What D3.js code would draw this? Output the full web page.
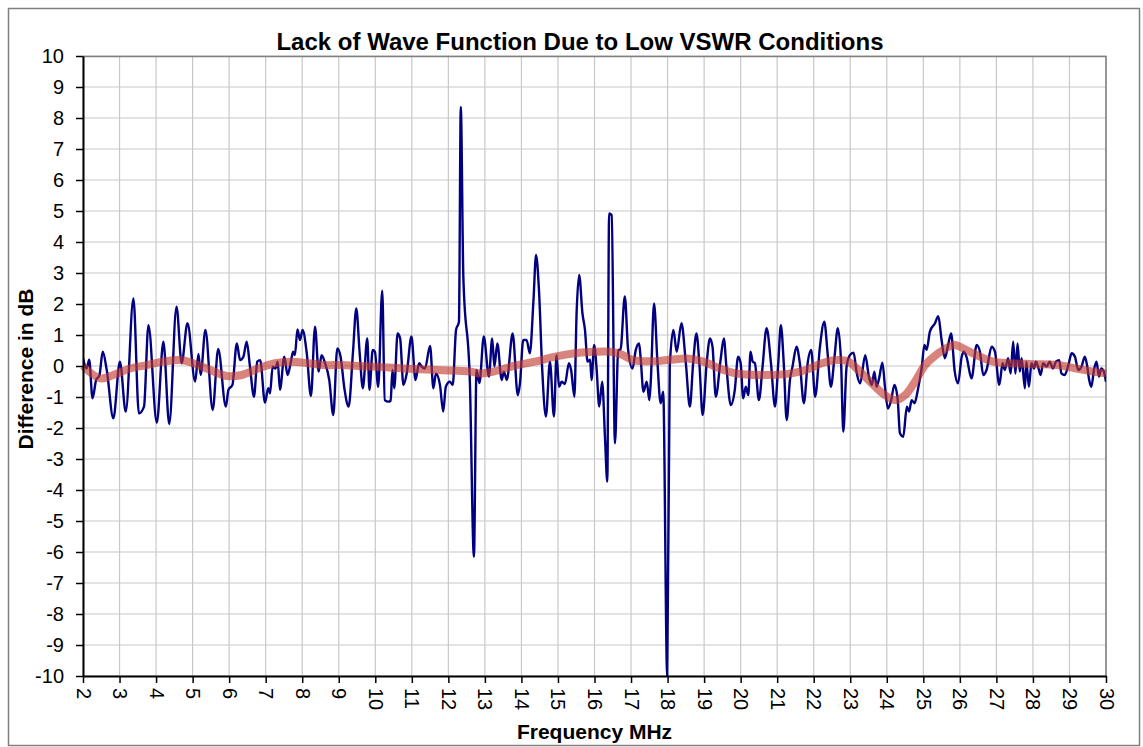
<!DOCTYPE html>
<html>
<head>
<meta charset="utf-8">
<script src="https://cdn.jsdelivr.net/npm/d3@7"></script>
<style>
    body { margin: 0; background: #fff; }
    svg { display: block; font-family: "Liberation Sans", Arial, sans-serif; }
</style>
</head>
<body>
<div id="chart"></div>
<script>
// measured difference (blue line), frequency in MHz
const freq = [2.00, 2.10, 2.17, 2.26, 2.36, 2.45, 2.54, 2.65, 2.83, 3.01, 3.17, 3.38, 3.53, 3.67, 3.79, 4.02, 4.20, 4.36, 4.56, 4.70,
    4.86, 5.07, 5.16, 5.22, 5.35, 5.55, 5.70, 5.91, 5.98, 6.09, 6.21, 6.30, 6.39, 6.48, 6.57, 6.68, 6.77, 6.85, 6.98, 7.07,
    7.12, 7.19, 7.27, 7.33, 7.39, 7.51, 7.60, 7.69, 7.75, 7.80, 7.87, 7.94, 8.01, 8.12, 8.24, 8.35, 8.45, 8.53, 8.62, 8.74,
    8.85, 8.96, 9.05, 9.16, 9.27, 9.39, 9.48, 9.57, 9.66, 9.78, 9.84, 9.93, 9.99, 10.08, 10.19, 10.26, 10.36, 10.42, 10.47, 10.52,
    10.61, 10.68, 10.77, 10.86, 10.99, 11.10, 11.20, 11.27, 11.36, 11.50, 11.59, 11.66, 11.77, 11.86, 11.93, 12.04, 12.12, 12.21, 12.29, 12.34,
    12.41, 12.59, 12.70, 12.77, 12.85, 12.97, 13.11, 13.20, 13.26, 13.34, 13.46, 13.52, 13.60, 13.76, 13.90, 13.96, 14.05, 14.14, 14.23, 14.33,
    14.40, 14.48, 14.57, 14.67, 14.78, 14.89, 14.96, 15.03, 15.10, 15.19, 15.30, 15.36, 15.45, 15.51, 15.58, 15.67, 15.74, 15.81, 15.88, 15.92,
    15.99, 16.06, 16.13, 16.21, 16.29, 16.35, 16.40, 16.47, 16.56, 16.65, 16.71, 16.83, 16.92, 17.04, 17.13, 17.22, 17.26, 17.34, 17.43, 17.50,
    17.54, 17.63, 17.72, 17.81, 17.88, 17.99, 18.06, 18.16, 18.25, 18.38, 18.50, 18.61, 18.70, 18.79, 18.87, 18.96, 19.07, 19.16, 19.23, 19.32,
    19.45, 19.54, 19.61, 19.73, 19.84, 19.93, 20.00, 20.07, 20.14, 20.21, 20.27, 20.33, 20.39, 20.50, 20.60, 20.71, 20.83, 20.94, 21.03, 21.10,
    21.18, 21.26, 21.35, 21.42, 21.53, 21.62, 21.73, 21.84, 21.93, 22.04, 22.17, 22.29, 22.38, 22.47, 22.57, 22.66, 22.75, 22.81, 22.90, 22.99,
    23.09, 23.18, 23.27, 23.41, 23.51, 23.59, 23.66, 23.72, 23.79, 23.88, 23.95, 24.03, 24.12, 24.21, 24.30, 24.36, 24.45, 24.55, 24.61, 24.68,
    24.76, 24.85, 24.96, 25.03, 25.09, 25.18, 25.32, 25.41, 25.50, 25.59, 25.67, 25.76, 25.86, 25.95, 26.05, 26.11, 26.18, 26.32, 26.46, 26.55,
    26.64, 26.73, 26.87, 26.96, 27.08, 27.17, 27.23, 27.32, 27.39, 27.46, 27.52, 27.58, 27.64, 27.69, 27.78, 27.82, 27.89, 27.96, 28.03, 28.08,
    28.14, 28.21, 28.28, 28.37, 28.46, 28.55, 28.63, 28.72, 28.78, 28.87, 28.97, 29.06, 29.15, 29.24, 29.33, 29.42, 29.48, 29.54, 29.60, 29.67,
    29.74, 29.81, 29.87, 29.94, 30.00];
const diff = [0.25, -0.08, 0.20, -1.04, -0.45, -0.30, 0.46, -0.13, -1.69, 0.14, -1.47, 2.18, -1.53, -1.31, 1.32, -1.83, 0.78, -1.87, 1.91, 0.09,
    1.38, -0.50, 0.39, -0.29, 1.16, -1.42, 0.55, -1.31, -0.77, -0.61, 0.73, 0.19, 0.30, 0.78, -0.02, -0.99, 0.14, 0.19, -1.18, -0.72,
    -0.88, -0.02, -0.08, 0.14, -0.77, 0.30, -0.29, 0.14, 0.46, 0.35, 1.18, 0.84, 1.16, 0.46, -0.97, 1.27, -0.18, 0.35, 0.11, -0.45,
    -1.58, 0.57, 0.30, -0.77, -1.31, 0.46, 1.86, 0.46, -0.72, 0.89, -0.77, 0.52, 0.46, -0.67, 2.43, -1.10, -1.15, -1.12, -0.13, -0.72,
    1.05, 0.89, -0.61, -0.24, 0.95, -0.45, 0.09, -0.02, -0.08, 0.65, -0.72, -0.24, -0.61, -1.47, -0.67, -0.51, -0.61, 1.16, 1.43, 8.36,
    2.88, -0.55, -6.15, -0.13, -0.55, 0.95, -0.34, 0.89, -0.02, 0.73, -0.45, -0.18, -0.45, 1.05, -0.94, -0.56, 0.84, 0.84, 0.41, 2.13,
    3.58, 2.45, -0.13, -1.63, 0.14, -1.63, 0.35, -0.67, -0.51, -0.58, 0.09, -0.13, -0.99, 1.70, 2.94, 1.70, 1.16, 0.14, 0.20, -0.45,
    0.68, -0.13, -1.31, -0.51, -2.39, -3.73, 4.92, 4.87, -2.49, 0.52, 0.52, 2.24, 0.52, -0.08, 0.52, 0.73, 0.30, -0.83, -0.51, -1.10,
    -0.51, 2.02, 0.19, -1.20, -0.83, -10.0, -0.02, 1.16, 0.46, 1.38, 0.09, -1.31, 0.09, 1.05, 0.09, -1.58, 0.09, 0.89, 0.62, -0.99,
    0.19, 0.89, -0.02, -1.26, -0.77, 0.30, 0.09, -1.04, -0.67, -0.94, 0.46, 0.14, 0.09, -1.10, -0.02, 1.22, 0.09, -1.31, 0.09, 1.32,
    0.09, -1.74, -0.45, -0.02, 0.62, 0.09, -1.20, 0.14, 0.52, -0.99, 0.62, 1.43, 0.41, -0.67, 0.30, 1.22, 0.09, -2.12, -0.02, 0.35,
    0.43, -0.24, -0.56, 0.35, -0.34, -0.61, -0.18, -0.67, -0.40, 0.11, -0.67, -1.37, -1.10, -0.61, -1.10, -2.17, -2.28, -1.31, -1.47, -1.10,
    -1.20, -0.77, -0.02, 0.68, 0.52, 1.11, 1.38, 1.61, 0.84, 0.25, 0.62, 1.05, -0.18, -0.56, 0.30, 0.46, 0.30, -0.40, 0.68, 0.46,
    -0.29, -0.13, 0.62, 0.46, -0.61, 0.09, -0.13, 0.25, -0.24, 0.78, -0.24, 0.73, -0.18, 0.25, -0.72, 0.14, -0.67, 0.09, -0.08, 0.14,
    -0.02, -0.29, 0.09, -0.02, 0.14, -0.08, 0.14, 0.19, -0.24, -0.29, 0.03, 0.41, 0.30, -0.13, -0.02, 0.30, 0.03, -0.45, -0.67, -0.13,
    0.14, -0.34, -0.08, -0.18, -0.51];

// smoothed trend (red line)
const trendFreq = [2.00, 2.47, 2.83, 3.29, 3.74, 4.20, 4.65, 5.02, 5.48, 5.93, 6.35, 6.80, 7.25, 7.70, 8.16, 8.62, 9.07, 9.53, 9.98, 10.77,
    11.68, 12.60, 12.87, 13.23, 13.78, 14.37, 14.92, 15.46, 16.01, 16.45, 16.74, 17.03, 17.50, 18.06, 18.55, 18.98, 19.43, 19.89, 20.53, 21.16,
    21.62, 21.90, 22.22, 22.68, 22.95, 23.22, 23.59, 23.95, 24.23, 24.50, 24.77, 25.05, 25.41, 25.69, 25.87, 26.09, 26.46, 26.91, 27.37, 28.01,
    28.65, 29.19, 29.65, 30.00];
const trend = [0.00, -0.40, -0.29, -0.08, 0.03, 0.14, 0.19, 0.09, -0.13, -0.32, -0.29, -0.08, 0.09, 0.14, 0.09, 0.03, 0.03, 0.00, -0.02, -0.08,
    -0.13, -0.18, -0.24, -0.18, 0.00, 0.14, 0.30, 0.41, 0.46, 0.46, 0.37, 0.20, 0.15, 0.20, 0.24, 0.14, -0.08, -0.24, -0.29, -0.27,
    -0.18, -0.08, 0.09, 0.19, 0.14, -0.13, -0.56, -0.94, -1.10, -0.94, -0.51, 0.03, 0.41, 0.62, 0.68, 0.57, 0.35, 0.14, 0.09, 0.06,
    0.03, -0.08, -0.18, -0.24];

const xTicks = d3.range(2, 31);
const yTicks = d3.range(-10, 11);

const width = 1143, height = 747;
const margin = { top: 56, right: 37, bottom: 71, left: 83 };
const innerW = width - margin.left - margin.right;
const innerH = height - margin.top - margin.bottom;

const svg = d3.select('#chart').append('svg')
    .attr('width', width)
    .attr('height', height);

// outer chart border
svg.append('rect')
    .attr('x', 8.5).attr('y', 8.5)
    .attr('width', 1131).attr('height', 737)
    .attr('fill', 'none')
    .attr('stroke', '#808080')
    .attr('stroke-width', 1.5);

const x = d3.scaleLinear().domain([2, 30]).range([0, innerW]);
const y = d3.scaleLinear().domain([-10, 10]).range([innerH, 0]);

const g = svg.append('g').attr('transform', `translate(${margin.left},${margin.top})`);

svg.append('defs').append('clipPath').attr('id', 'plot-clip')
    .append('rect').attr('width', innerW).attr('height', innerH + 1);

// grid
g.append('g').selectAll('line.v').data(xTicks).enter().append('line')
    .attr('x1', d => x(d)).attr('x2', d => x(d))
    .attr('y1', 0).attr('y2', innerH)
    .attr('stroke', '#c8c8c8').attr('stroke-width', 1.2);
g.append('g').selectAll('line.h').data(yTicks).enter().append('line')
    .attr('x1', 0).attr('x2', innerW)
    .attr('y1', d => y(d)).attr('y2', d => y(d))
    .attr('stroke', '#c8c8c8').attr('stroke-width', 1.2);

// plot frame (top & right)
g.append('path')
    .attr('d', `M0,0.5H${innerW}V${innerH}`)
    .attr('fill', 'none')
    .attr('stroke', '#808080')
    .attr('stroke-width', 1.5);

// blue measurement line
const lineBlue = d3.line()
    .x((d, i) => x(freq[i]))
    .y(d => y(d))
    .curve(d3.curveMonotoneX);

g.append('path')
    .datum(diff)
    .attr('clip-path', 'url(#plot-clip)')
    .attr('d', lineBlue)
    .attr('fill', 'none')
    .attr('stroke', '#000080')
    .attr('stroke-width', 2.4)
    .attr('stroke-linejoin', 'round');

// red trend line
const lineRed = d3.line()
    .x((d, i) => x(trendFreq[i]))
    .y(d => y(d))
    .curve(d3.curveCatmullRom.alpha(0.5));

g.append('path')
    .datum(trend)
    .attr('d', lineRed)
    .attr('fill', 'none')
    .attr('stroke', '#c0392b')
    .attr('stroke-opacity', 0.62)
    .attr('stroke-width', 8)
    .attr('stroke-linecap', 'butt');

// axes (plain hyphen minus like the original)
const fmt = d => String(d);
const yAxis = g.append('g')
    .call(d3.axisLeft(y).tickValues(yTicks).tickFormat(fmt).tickSize(7).tickSizeOuter(0).tickPadding(12));
const xAxis = g.append('g')
    .attr('transform', `translate(0,${innerH})`)
    .call(d3.axisBottom(x).tickValues(xTicks).tickFormat(fmt).tickSize(7).tickSizeOuter(0));

[xAxis, yAxis].forEach(ax => {
    ax.select('.domain').attr('stroke', '#000').attr('stroke-width', 2);
    ax.selectAll('.tick line').attr('stroke', '#000').attr('stroke-width', 1.5);
    ax.selectAll('.tick text').attr('fill', '#000').style('font-size', '20px')
        .style('font-family', '"Liberation Sans", Arial, sans-serif');
});

xAxis.selectAll('.tick text')
    .attr('transform', 'rotate(90)')
    .attr('text-anchor', 'start')
    .attr('x', 12)
    .attr('y', 0)
    .attr('dy', '0.35em');

// titles
svg.append('text')
    .attr('x', 580).attr('y', 50)
    .attr('text-anchor', 'middle')
    .style('font-size', '24px').style('font-weight', 'bold')
    .text('Lack of Wave Function Due to Low VSWR Conditions');

svg.append('text')
    .attr('transform', `translate(33,${margin.top + innerH / 2 + 3}) rotate(-90)`)
    .attr('text-anchor', 'middle')
    .style('font-size', '21px').style('font-weight', 'bold')
    .text('Difference in dB');

svg.append('text')
    .attr('x', margin.left + innerW / 2).attr('y', 739)
    .attr('text-anchor', 'middle')
    .style('font-size', '21px').style('font-weight', 'bold')
    .text('Frequency MHz');
</script>
</body>
</html>
